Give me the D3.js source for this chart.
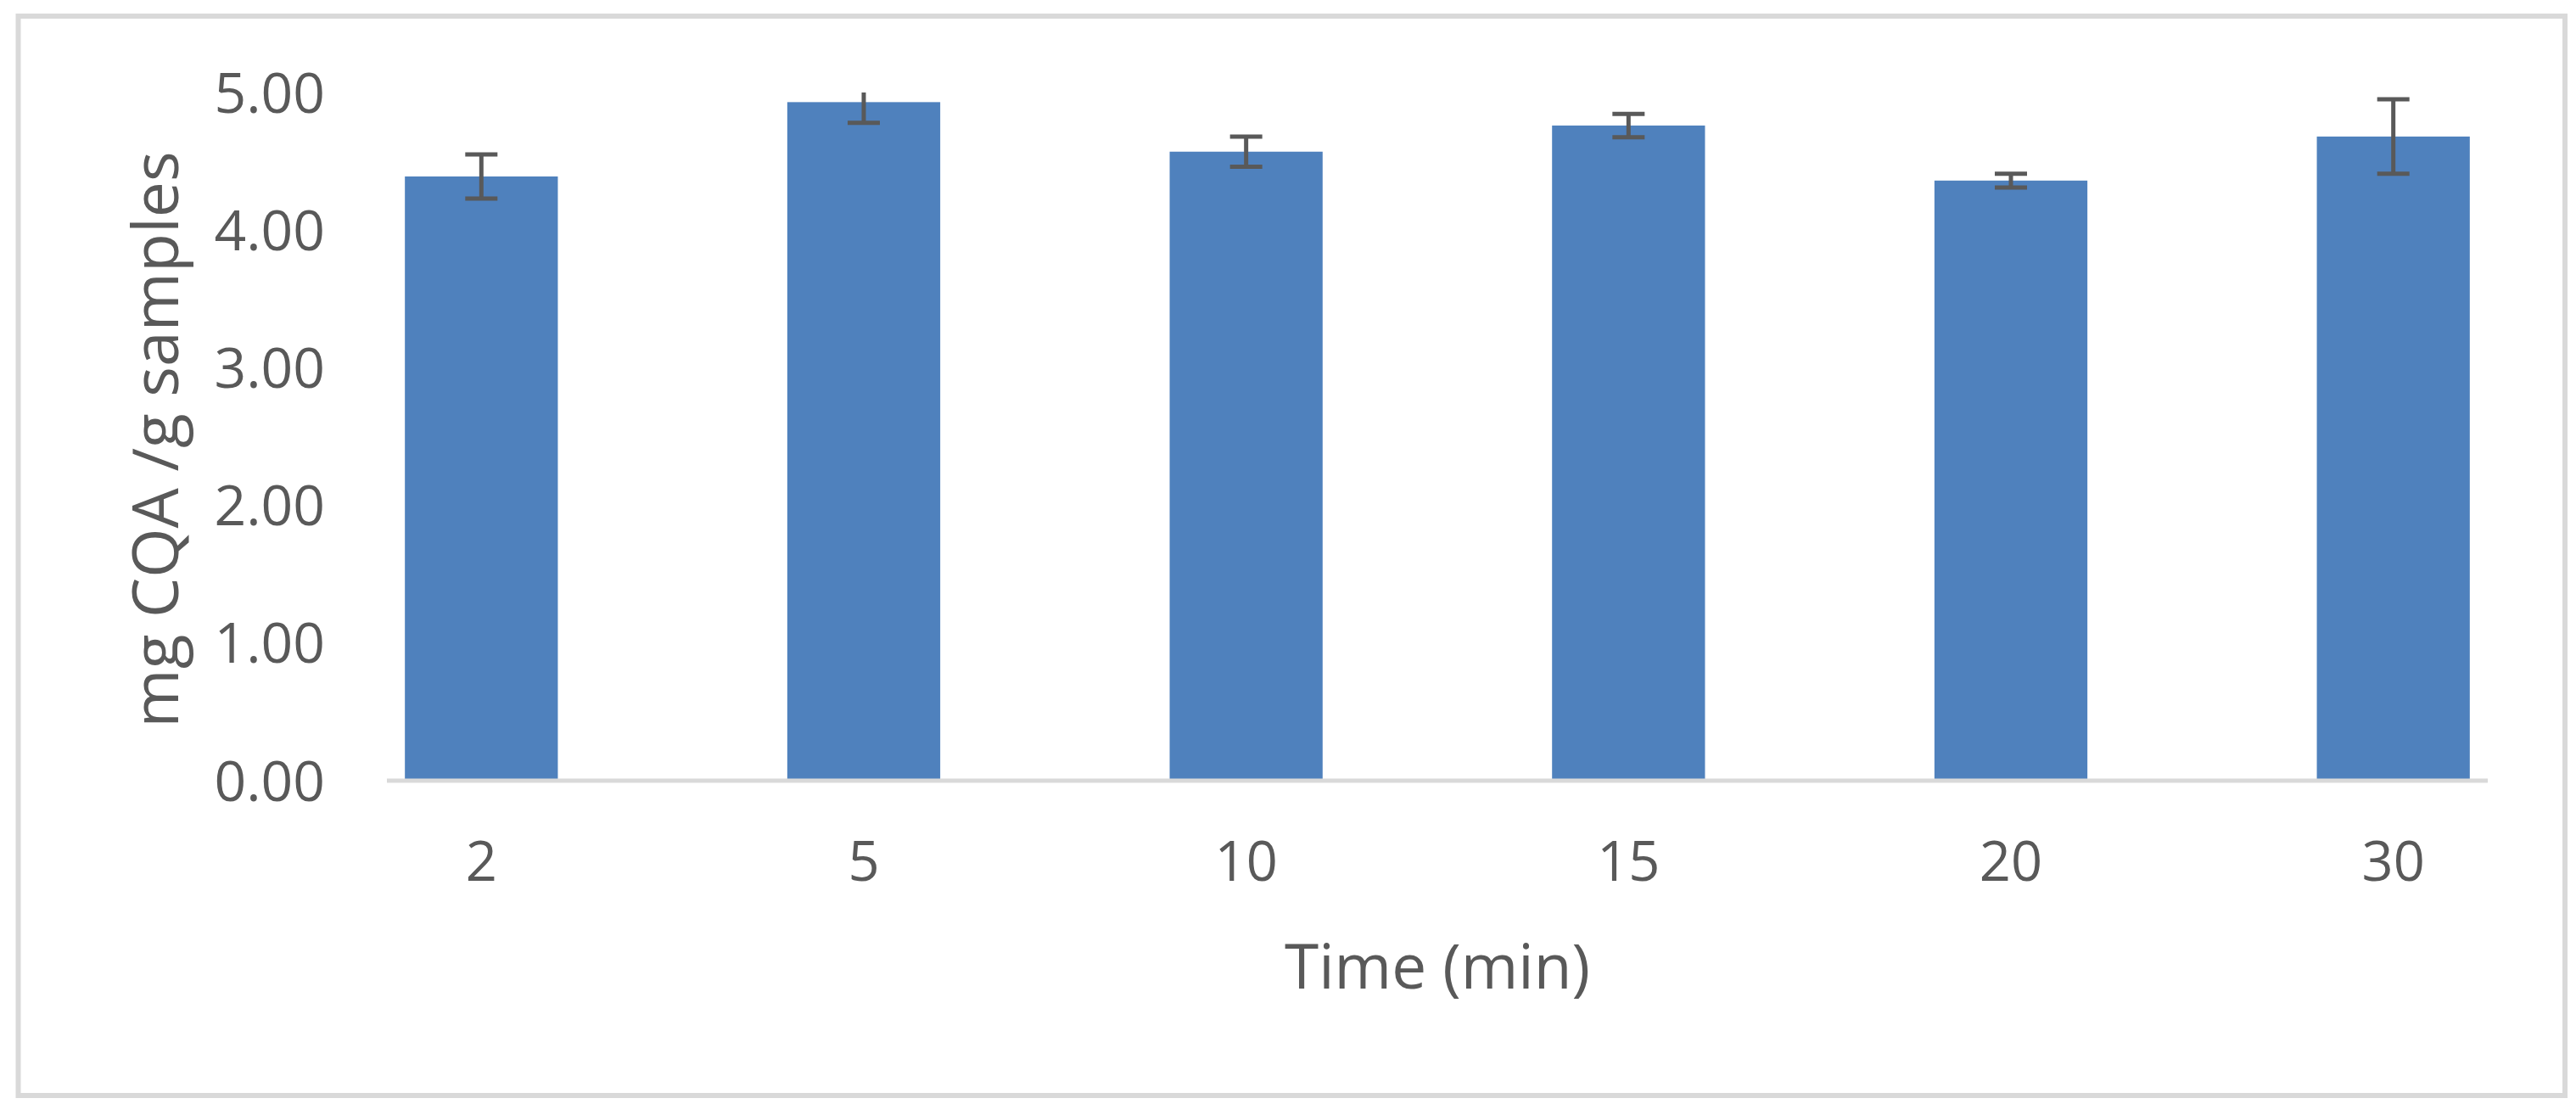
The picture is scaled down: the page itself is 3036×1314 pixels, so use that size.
<!DOCTYPE html>
<html>
<head>
<meta charset="utf-8">
<script src="https://cdn.jsdelivr.net/npm/d3@7"></script>
<style>
  html, body { margin: 0; padding: 0; background: #ffffff; }
  svg { display: block; }
  text { font-family: "Open Sans", "Noto Sans", sans-serif; fill: #595959; }
</style>
</head>
<body>
<svg id="chart" width="3036" height="1314"></svg>
<script>
// ---- data ----
const categories = ["2", "5", "10", "15", "20", "30"];
const values = [4.39, 4.93, 4.57, 4.76, 4.36, 4.68];
const errors = [0.16, 0.15, 0.11, 0.085, 0.05, 0.27];
const yTicks = [0, 1, 2, 3, 4, 5];
const xTitle = "Time (min)";
const yTitle = "mg CQA /g samples";

const svg = d3.select("#chart");
const W = 3036, H = 1314;

// outer frame
svg.append("rect")
  .attr("x", 21.5).attr("y", 19)
  .attr("width", 3001.5).attr("height", 1272)
  .attr("fill", "#ffffff")
  .attr("stroke", "#d9d9d9").attr("stroke-width", 6);

const plotLeft = 456, plotRight = 2932, plotTop = 109, plotBottom = 920;

const x = d3.scaleBand()
  .domain(categories)
  .range([plotLeft, plotRight])
  .paddingInner(0.6)
  .paddingOuter(0.047);

const y = d3.scaleLinear()
  .domain([0, 5])
  .range([plotBottom, plotTop]);

// clip for error bars (plot area)
svg.append("clipPath").attr("id", "plotclip")
  .append("rect")
  .attr("x", plotLeft).attr("y", y(5))
  .attr("width", plotRight - plotLeft).attr("height", plotBottom - y(5));

// bars
svg.append("g").selectAll("rect")
  .data(values)
  .join("rect")
  .attr("x", (d, i) => x(categories[i]))
  .attr("y", d => y(d))
  .attr("width", x.bandwidth())
  .attr("height", d => y(0) - y(d))
  .attr("fill", "#4f81bd");

// x axis line
const xAxis = d3.axisBottom(x).tickSize(0).tickPadding(0);
const gx = svg.append("g").attr("transform", `translate(0,${plotBottom})`).call(xAxis);
gx.select(".domain").attr("stroke", "#d9d9d9").attr("stroke-width", 5)
  .attr("d", `M${plotLeft},0H${plotRight}`);
gx.selectAll(".tick text")
  .attr("y", 118).attr("dy", null)
  .style("font-size", "65px")
  .style("font-family", "'Open Sans', sans-serif")
  .attr("fill", "#595959");

// y axis labels (no line)
const yAxis = d3.axisLeft(y).tickValues(yTicks).tickFormat(d3.format(".2f")).tickSize(0).tickPadding(0);
const gy = svg.append("g").attr("transform", `translate(383,0)`).call(yAxis);
gy.select(".domain").remove();
gy.selectAll(".tick text")
  .attr("x", 0).attr("dy", "0.35em")
  .style("font-size", "66px")
  .style("font-family", "'Open Sans', sans-serif")
  .attr("fill", "#595959");

// error bars
const eb = svg.append("g").attr("clip-path", "url(#plotclip)");
const capHalf = 19;
values.forEach((v, i) => {
  const cx = x(categories[i]) + x.bandwidth() / 2;
  const hi = v + errors[i], lo = v - errors[i];
  eb.append("line")
    .attr("x1", cx).attr("x2", cx)
    .attr("y1", y(hi)).attr("y2", y(lo))
    .attr("stroke", "#595959").attr("stroke-width", 5);
  if (hi <= 5) {
    eb.append("line")
      .attr("x1", cx - capHalf).attr("x2", cx + capHalf)
      .attr("y1", y(hi)).attr("y2", y(hi))
      .attr("stroke", "#595959").attr("stroke-width", 5);
  }
  eb.append("line")
    .attr("x1", cx - capHalf).attr("x2", cx + capHalf)
    .attr("y1", y(lo)).attr("y2", y(lo))
    .attr("stroke", "#595959").attr("stroke-width", 5);
});

// axis titles
svg.append("text")
  .attr("x", (plotLeft + plotRight) / 2)
  .attr("y", 1165)
  .attr("text-anchor", "middle")
  .style("font-size", "73px")
  .text(xTitle);

svg.append("text")
  .attr("transform", `translate(210,518) rotate(-90)`)
  .attr("text-anchor", "middle")
  .style("font-size", "75px")
  .text(yTitle);
</script>
</body>
</html>
